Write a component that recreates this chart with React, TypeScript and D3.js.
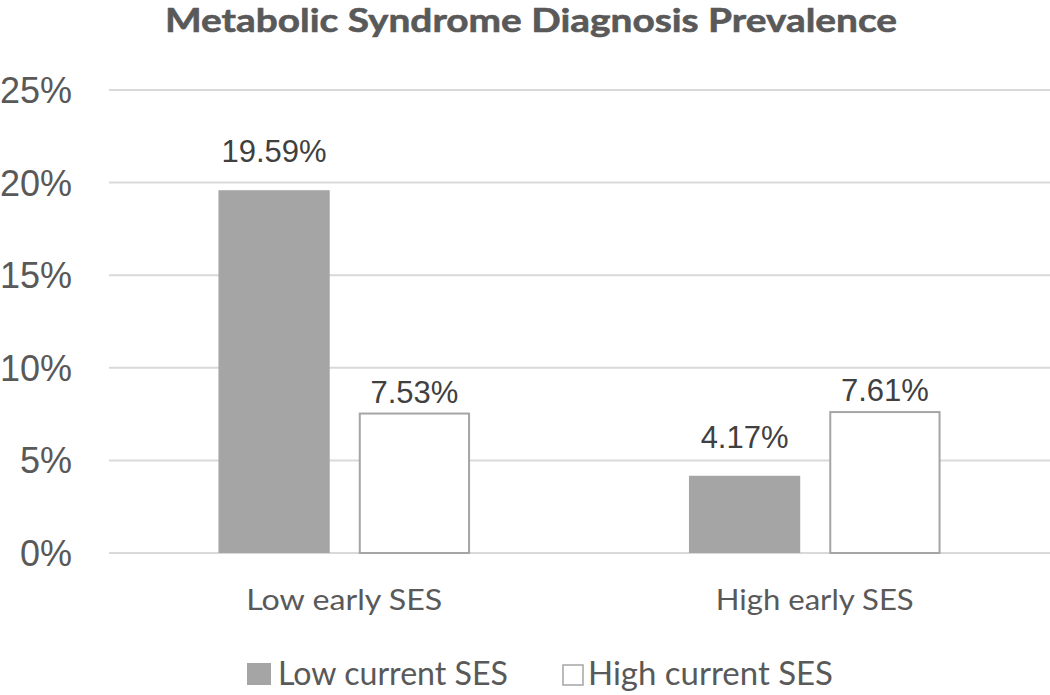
import React from "react";
import * as d3 from "d3";

const categories = ["Low early SES", "High early SES"];
const seriesNames = ["Low current SES", "High current SES"];
const lowCurrent = [19.59, 4.17];
const highCurrent = [7.53, 7.61];
const yTicks = [0, 5, 10, 15, 20, 25];

const W = 1050;
const H = 695;
const fills = ["#a5a5a5", "#ffffff"];
const strokes = ["none", "#a5a5a5"];
const labelGap = [28, 11];

export default function App() {
  const x0 = d3.scaleBand<string>().domain(categories).range([109, 1050]).paddingInner(0).paddingOuter(0);
  const x1 = d3.scaleBand<string>().domain(seriesNames).range([0, x0.bandwidth()]).paddingInner(0.207).paddingOuter(0.78);
  const y = d3.scaleLinear().domain([0, 25]).range([553, 90]);
  const series = [lowCurrent, highCurrent];
  const calibri = "Lato, 'Open Sans', sans-serif";
  const arial = "'Liberation Sans', Arial, sans-serif";
  const catWidths = [196, 198];
  return (
    <svg width={W} height={H} style={{ position: "absolute", left: 0, top: 0, background: "#fff" }}>
      <text x={165} y={32} fontFamily={calibri} fontWeight={700} fontSize={33} fill="#595959" stroke="#595959" strokeWidth={0.6} textLength={732} lengthAdjust="spacingAndGlyphs">
        Metabolic Syndrome Diagnosis Prevalence
      </text>
      {yTicks.map((t) => (
        <g key={t}>
          <line x1={109} x2={1050} y1={y(t)} y2={y(t)} stroke="#d9d9d9" strokeWidth={2} />
          <text x={72} y={y(t) + 13} textAnchor="end" fontFamily={arial} fontSize={36} fill="#595959">
            {t}%
          </text>
        </g>
      ))}
      {categories.map((c, ci) => (
        <g key={c}>
          {seriesNames.map((s, si) => {
            const v = series[si][ci];
            const bx = (x0(c) as number) + (x1(s) as number);
            const bw = x1.bandwidth();
            return (
              <g key={s}>
                <rect
                  x={bx + (si === 1 ? 1 : 0)}
                  y={y(v)}
                  width={bw - (si === 1 ? 2 : 0)}
                  height={y(0) - y(v)}
                  fill={fills[si]}
                  stroke={strokes[si]}
                  strokeWidth={2}
                />
                <text x={bx + bw / 2} y={y(v) - labelGap[si]} textAnchor="middle" fontFamily={arial} fontSize={31} fill="#404040">
                  {v.toFixed(2)}%
                </text>
              </g>
            );
          })}
          <text
            x={(x0(c) as number) + x0.bandwidth() / 2 - catWidths[ci] / 2}
            y={610}
            fontFamily={calibri}
            fontSize={29}
            fill="#595959"
            textLength={catWidths[ci]}
            lengthAdjust="spacingAndGlyphs"
          >
            {c}
          </text>
        </g>
      ))}
      <rect x={247} y={663} width={24} height={22} fill={fills[0]} />
      <text x={278} y={685} fontFamily={calibri} fontSize={32} fill="#595959" textLength={230} lengthAdjust="spacingAndGlyphs">
        {seriesNames[0]}
      </text>
      <rect x={563} y={665} width={20} height={20} fill="#fff" stroke="#a5a5a5" strokeWidth={1.5} />
      <text x={588} y={685} fontFamily={calibri} fontSize={32} fill="#595959" textLength={245} lengthAdjust="spacingAndGlyphs">
        {seriesNames[1]}
      </text>
    </svg>
  );
}
